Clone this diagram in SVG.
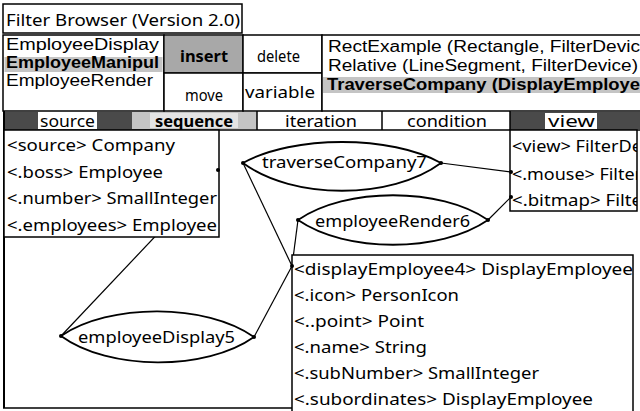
<svg xmlns="http://www.w3.org/2000/svg" width="640" height="411" viewBox="0 0 640 411">
<style>
text{font-family:"Noto Sans","DejaVu Sans",sans-serif;font-size:16px;fill:#000}
.b{font-weight:bold}
.li{font-family:"Liberation Sans","Noto Sans",sans-serif;font-size:16px}
.box{fill:#fff;stroke:#000;stroke-width:1.5}
.ln{fill:none;stroke:#000;stroke-width:1.5}
.lens{fill:#fff;stroke:#000;stroke-width:1.8}
.con{fill:none;stroke:#000;stroke-width:1.2}
.dot{fill:#000}
.lg{fill:#c4c4c4}
.mg{fill:#a8a8a8}
.dg{fill:#4a4a4a}
</style>
<defs>
<clipPath id="cr"><rect x="322" y="35" width="318" height="76"/></clipPath>
<clipPath id="cv"><rect x="510" y="130" width="127" height="81"/></clipPath>
</defs>
<rect width="640" height="411" fill="#fff"/>

<g id="title">
<rect class="box" x="3" y="4" width="239" height="29"/>
<text x="6" y="26" textLength="234" lengthAdjust="spacingAndGlyphs">Filter Browser (Version 2.0)</text>
</g>

<g id="classList">
<rect class="box" x="3" y="35" width="161" height="76"/>
<rect class="lg" x="4.5" y="57" width="158" height="15"/>
<text class="li" x="6" y="50" textLength="153" lengthAdjust="spacingAndGlyphs">EmployeeDisplay</text>
<text class="li b" x="6" y="68" textLength="153" lengthAdjust="spacingAndGlyphs">EmployeeManipul</text>
<text class="li" x="6" y="86" textLength="147" lengthAdjust="spacingAndGlyphs">EmployeeRender</text>
</g>

<g id="buttons">
<rect class="box" x="164" y="35" width="79" height="38"/>
<rect class="mg" x="165" y="36" width="77" height="36"/>
<rect class="box" x="243" y="35" width="79" height="38"/>
<rect class="box" x="164" y="73" width="79" height="38"/>
<rect class="box" x="243" y="73" width="79" height="38"/>
<text class="b" x="180" y="62" textLength="48" lengthAdjust="spacingAndGlyphs">insert</text>
<text x="257" y="62" textLength="43" lengthAdjust="spacingAndGlyphs">delete</text>
<text x="185" y="101" textLength="38" lengthAdjust="spacingAndGlyphs">move</text>
<text x="245" y="98" textLength="70" lengthAdjust="spacingAndGlyphs">variable</text>
</g>

<g id="methodList">
<rect class="box" x="322" y="35" width="320" height="76"/>
<g clip-path="url(#cr)">
<rect class="lg" x="323" y="77" width="317" height="16"/>
<text class="li" x="328" y="52" textLength="312" lengthAdjust="spacingAndGlyphs">RectExample (Rectangle, FilterDevic</text>
<text class="li" x="328" y="71" textLength="310" lengthAdjust="spacingAndGlyphs">Relative (LineSegment, FilterDevice)</text>
<text class="li b" x="327" y="90" textLength="313" lengthAdjust="spacingAndGlyphs">TraverseCompany (DisplayEmploye</text>
</g>
</g>

<g id="tabs">
<rect class="dg" x="4" y="112" width="34" height="17"/>
<rect class="dg" x="97" y="112" width="35" height="17"/>
<rect class="lg" x="132" y="112" width="125" height="17"/>
<rect fill="#e4e4e4" x="150" y="113" width="88" height="15"/>
<rect class="dg" x="510" y="112" width="130" height="17"/>
<rect fill="#fff" x="545" y="113" width="52" height="16"/>
<line class="ln" x1="257" y1="111" x2="257" y2="130"/>
<line class="ln" x1="382" y1="111" x2="382" y2="130"/>
<line class="ln" x1="510" y1="111" x2="510" y2="130"/>
<line class="ln" x1="3" y1="130" x2="640" y2="130"/>
<text x="40" y="127" textLength="55" lengthAdjust="spacingAndGlyphs">source</text>
<text class="b" x="155" y="127" textLength="78" lengthAdjust="spacingAndGlyphs">sequence</text>
<text x="285" y="127" textLength="72" lengthAdjust="spacingAndGlyphs">iteration</text>
<text x="407" y="127" textLength="80" lengthAdjust="spacingAndGlyphs">condition</text>
<text x="548" y="127" textLength="47" lengthAdjust="spacingAndGlyphs">view</text>
</g>

<g id="frame">
<line x1="4" y1="111" x2="4" y2="408" stroke="#000" stroke-width="2"/>
<line class="ln" x1="3" y1="408" x2="293" y2="408"/>
</g>

<g id="connectors">
<line class="con" x1="218" y1="170" x2="61" y2="336"/>
<line class="con" x1="243" y1="163" x2="292" y2="266"/>
<line class="con" x1="298" y1="220" x2="292" y2="266"/>
<line class="con" x1="254" y1="337" x2="292" y2="266"/>
<line class="con" x1="441" y1="163" x2="511" y2="172"/>
<line class="con" x1="488" y1="220" x2="511" y2="197"/>
</g>

<g id="sourceBox">
<rect class="box" x="4" y="130" width="215" height="107"/>
<text x="7" y="151" textLength="168" lengthAdjust="spacingAndGlyphs">&lt;source&gt; Company</text>
<text x="7" y="178" textLength="156" lengthAdjust="spacingAndGlyphs">&lt;.boss&gt; Employee</text>
<text x="7" y="204" textLength="210" lengthAdjust="spacingAndGlyphs">&lt;.number&gt; SmallInteger</text>
<text x="7" y="231" textLength="210" lengthAdjust="spacingAndGlyphs">&lt;.employees&gt; Employee</text>
<circle class="dot" cx="218" cy="170" r="2"/>
</g>

<g id="viewBox">
<rect class="box" x="510" y="130" width="127" height="81"/>
<g clip-path="url(#cv)">
<text x="512" y="152" textLength="130" lengthAdjust="spacingAndGlyphs">&lt;view&gt; FilterDe</text>
<text x="512" y="180" textLength="130" lengthAdjust="spacingAndGlyphs">&lt;.mouse&gt; Filter</text>
<text x="512" y="206" textLength="130" lengthAdjust="spacingAndGlyphs">&lt;.bitmap&gt; Filte</text>
</g>
<circle class="dot" cx="511" cy="172" r="2"/>
<circle class="dot" cx="511" cy="197" r="2"/>
</g>

<g id="traverseCompany7">
<path class="lens" d="M243,163 C293,135 391,135 441,163 C391,200 293,200 243,163 Z"/>
<text x="262" y="168" textLength="165" lengthAdjust="spacingAndGlyphs">traverseCompany7</text>
<circle class="dot" cx="243" cy="163" r="2"/>
<circle class="dot" cx="441" cy="163" r="2"/>
</g>

<g id="employeeRender6">
<path class="lens" d="M298,220 C346,187 440,187 488,220 C440,253 346,253 298,220 Z"/>
<text x="315" y="227" textLength="155" lengthAdjust="spacingAndGlyphs">employeeRender6</text>
<circle class="dot" cx="298" cy="220" r="2"/>
<circle class="dot" cx="488" cy="220" r="2"/>
</g>

<g id="displayEmployee4">
<rect class="box" x="292" y="255" width="341" height="165"/>
<text x="294" y="275" textLength="339" lengthAdjust="spacingAndGlyphs">&lt;displayEmployee4&gt; DisplayEmployee</text>
<text x="294" y="301" textLength="165" lengthAdjust="spacingAndGlyphs">&lt;.icon&gt; PersonIcon</text>
<text x="294" y="327" textLength="130" lengthAdjust="spacingAndGlyphs">&lt;..point&gt; Point</text>
<text x="294" y="353" textLength="133" lengthAdjust="spacingAndGlyphs">&lt;.name&gt; String</text>
<text x="294" y="379" textLength="245" lengthAdjust="spacingAndGlyphs">&lt;.subNumber&gt; SmallInteger</text>
<text x="294" y="405" textLength="299" lengthAdjust="spacingAndGlyphs">&lt;.subordinates&gt; DisplayEmployee</text>
<circle class="dot" cx="292" cy="266" r="2"/>
</g>

<g id="employeeDisplay5">
<path class="lens" d="M61,336 C109,303 206,303 254,337 C206,371 109,371 61,336 Z"/>
<text x="78" y="343" textLength="157" lengthAdjust="spacingAndGlyphs">employeeDisplay5</text>
<circle class="dot" cx="61" cy="336" r="2"/>
<circle class="dot" cx="254" cy="337" r="2"/>
</g>
</svg>
